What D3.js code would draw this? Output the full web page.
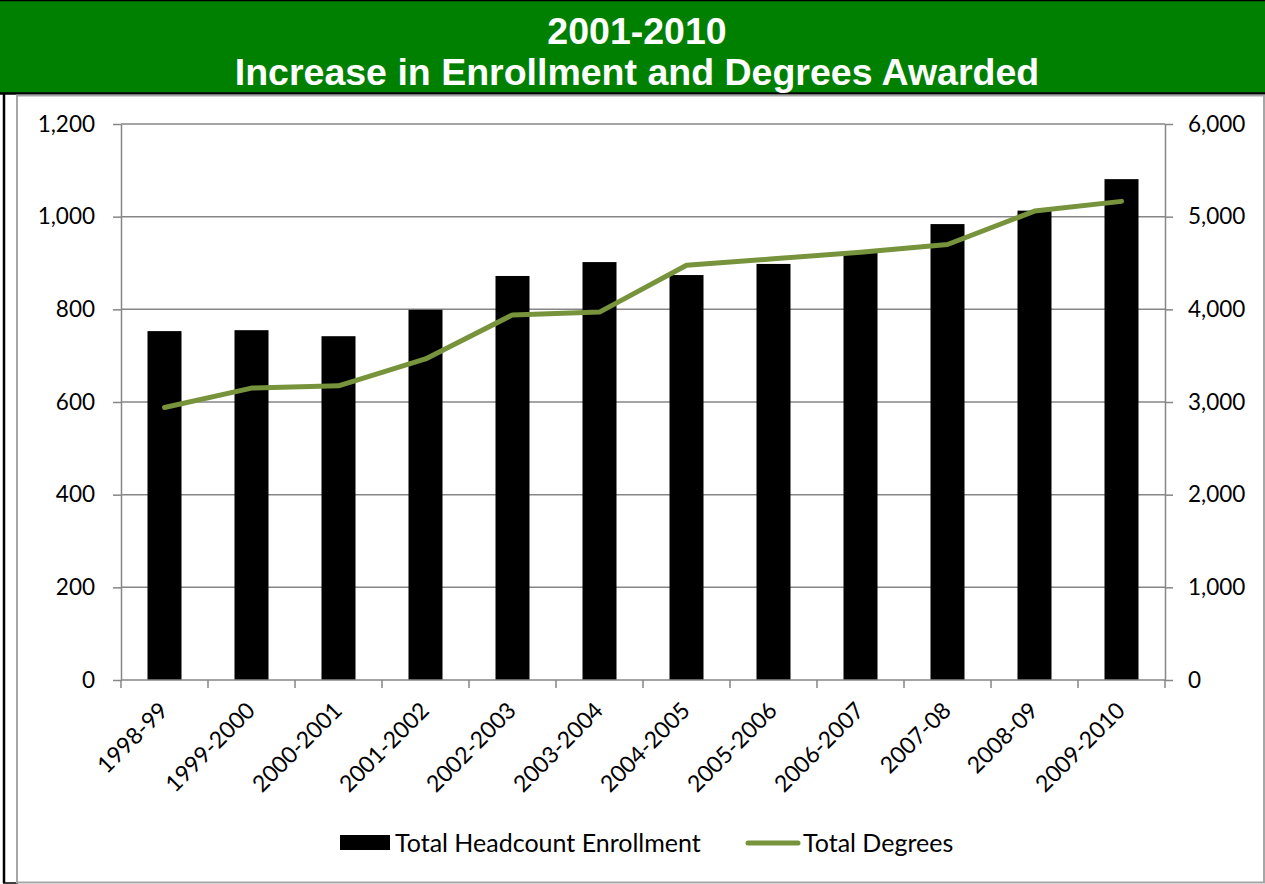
<!DOCTYPE html>
<html>
<head>
<meta charset="utf-8">
<script src="https://cdn.jsdelivr.net/npm/d3@7"></script>
<style>
  html, body { margin: 0; padding: 0; background: #fff; }
  svg { display: block; }
  .tick text { font-family: Lato, "Open Sans", sans-serif; }
</style>
</head>
<body>
<svg id="chart" width="1265" height="884"></svg>
<script>
const categories = ["1998-99","1999-2000","2000-2001","2001-2002","2002-2003","2003-2004","2004-2005","2005-2006","2006-2007","2007-08","2008-09","2009-2010"];
const enrollment = [753, 755, 742, 799, 872, 902, 874, 898, 924, 984, 1013, 1081];
const degrees = [2940, 3150, 3175, 3465, 3940, 3970, 4475, 4545, 4615, 4700, 5060, 5165];
const leftTicks = [0, 200, 400, 600, 800, 1000, 1200];
const rightTicks = [0, 1000, 2000, 3000, 4000, 5000, 6000];
const titleLines = ["2001-2010", "Increase in Enrollment and Degrees Awarded"];
const seriesNames = ["Total Headcount Enrollment", "Total Degrees"];

(function () {
const svg = d3.select("#chart");
const W = 1265, H = 884;
const green = "#008000", lineColor = "#77933C", axisGray = "#868686";

// Title banner
svg.append("rect").attr("x", 0).attr("y", 0).attr("width", W).attr("height", 94).attr("fill", green);
svg.append("line").attr("x1", 0).attr("x2", W).attr("y1", 0.5).attr("y2", 0.5).attr("stroke", "#000").attr("stroke-width", 1.5);
svg.append("line").attr("x1", 0).attr("x2", W).attr("y1", 93.5).attr("y2", 93.5).attr("stroke", "#000").attr("stroke-width", 2.5);
svg.selectAll("text.title").data(titleLines).enter().append("text")
  .attr("class", "title")
  .attr("x", 637).attr("y", (d, i) => 44 + i * 41)
  .attr("text-anchor", "middle")
  .attr("fill", "#fff")
  .attr("font-family", "Liberation Sans, Arial, sans-serif")
  .attr("font-weight", "bold")
  .attr("font-size", 37.5)
  .text(d => d);

// Frame
svg.append("line").attr("x1", 4).attr("x2", 4).attr("y1", 94).attr("y2", 883).attr("stroke", "#000").attr("stroke-width", 2.5);
svg.append("line").attr("x1", 3).attr("x2", 18).attr("y1", 883).attr("y2", 883).attr("stroke", "#000").attr("stroke-width", 1.5);
svg.append("rect").attr("x", 17).attr("y", 95.5).attr("width", W - 18).attr("height", 787)
  .attr("fill", "none").attr("stroke", "#a6a6a6").attr("stroke-width", 2);

// Plot
const pLeft = 121, pRight = 1165, pTop = 124, pBottom = 680;
const xb = d3.scaleBand().domain(categories).range([pLeft, pRight]);
const yL = d3.scaleLinear().domain([0, 1200]).range([pBottom, pTop]);
const yR = d3.scaleLinear().domain([0, 6000]).range([pBottom, pTop]);

// Gridlines
svg.append("g").selectAll("line").data(leftTicks.filter(d => d > 0)).enter().append("line")
  .attr("x1", pLeft).attr("x2", pRight)
  .attr("y1", d => yL(d)).attr("y2", d => yL(d))
  .attr("stroke", axisGray).attr("stroke-width", 1.5);

// Bars
svg.append("g").selectAll("rect").data(categories).enter().append("rect")
  .attr("x", d => xb(d) + xb.bandwidth() / 2 - 17)
  .attr("width", 34)
  .attr("y", (d, i) => yL(enrollment[i]))
  .attr("height", (d, i) => pBottom - yL(enrollment[i]))
  .attr("fill", "#000");

// Line
const line = d3.line().x((d, i) => xb(categories[i]) + xb.bandwidth() / 2).y(d => yR(d));
svg.append("path").datum(degrees).attr("d", line)
  .attr("fill", "none").attr("stroke", lineColor).attr("stroke-width", 5)
  .attr("stroke-linejoin", "round").attr("stroke-linecap", "round");

// Axes
const fmt = d3.format(",");
const gL = svg.append("g").attr("transform", `translate(${pLeft},0)`)
  .call(d3.axisLeft(yL).tickValues(leftTicks).tickFormat(fmt).tickSize(8).tickPadding(18).tickSizeOuter(0));
const gR = svg.append("g").attr("transform", `translate(${pRight},0)`)
  .call(d3.axisRight(yR).tickValues(rightTicks).tickFormat(fmt).tickSize(8).tickPadding(15).tickSizeOuter(0));
[gL, gR].forEach(g => {
  g.selectAll(".domain").attr("stroke", axisGray).attr("stroke-width", 1.5);
  g.selectAll(".tick line").attr("stroke", axisGray).attr("stroke-width", 1.5);
  g.selectAll(".tick text").attr("font-size", 22.5).attr("fill", "#000");
});

// Bottom axis with ticks at band boundaries
const gB = svg.append("g").attr("transform", `translate(0,${pBottom})`);
gB.append("line").attr("x1", pLeft).attr("x2", pRight).attr("y1", 0).attr("y2", 0)
  .attr("stroke", axisGray).attr("stroke-width", 1.5);
const bounds = categories.map(c => xb(c)).concat([pRight]);
gB.selectAll("line.tk").data(bounds).enter().append("line").attr("class", "tk")
  .attr("x1", d => d).attr("x2", d => d).attr("y1", 0).attr("y2", 8)
  .attr("stroke", axisGray).attr("stroke-width", 1.5);
gB.selectAll("text").data(categories).enter().append("text")
  .attr("transform", d => `translate(${xb(d) + xb.bandwidth() / 2 + 5},${32}) rotate(-45)`)
  .attr("text-anchor", "end")
  .attr("font-family", "Lato, 'Open Sans', sans-serif")
  .attr("font-size", 23)
  .attr("fill", "#000")
  .text(d => d);

// Legend
const lg = svg.append("g").attr("font-family", "Lato, 'Open Sans', sans-serif").attr("font-size", 25);
lg.append("rect").attr("x", 340).attr("y", 835).attr("width", 50).attr("height", 15).attr("fill", "#000");
lg.append("text").attr("x", 395).attr("y", 852).text(seriesNames[0]);
lg.append("line").attr("x1", 748).attr("x2", 798).attr("y1", 843).attr("y2", 843)
  .attr("stroke", lineColor).attr("stroke-width", 5).attr("stroke-linecap", "round");
lg.append("text").attr("x", 803).attr("y", 852).text(seriesNames[1]);
})();
</script>
</body>
</html>
